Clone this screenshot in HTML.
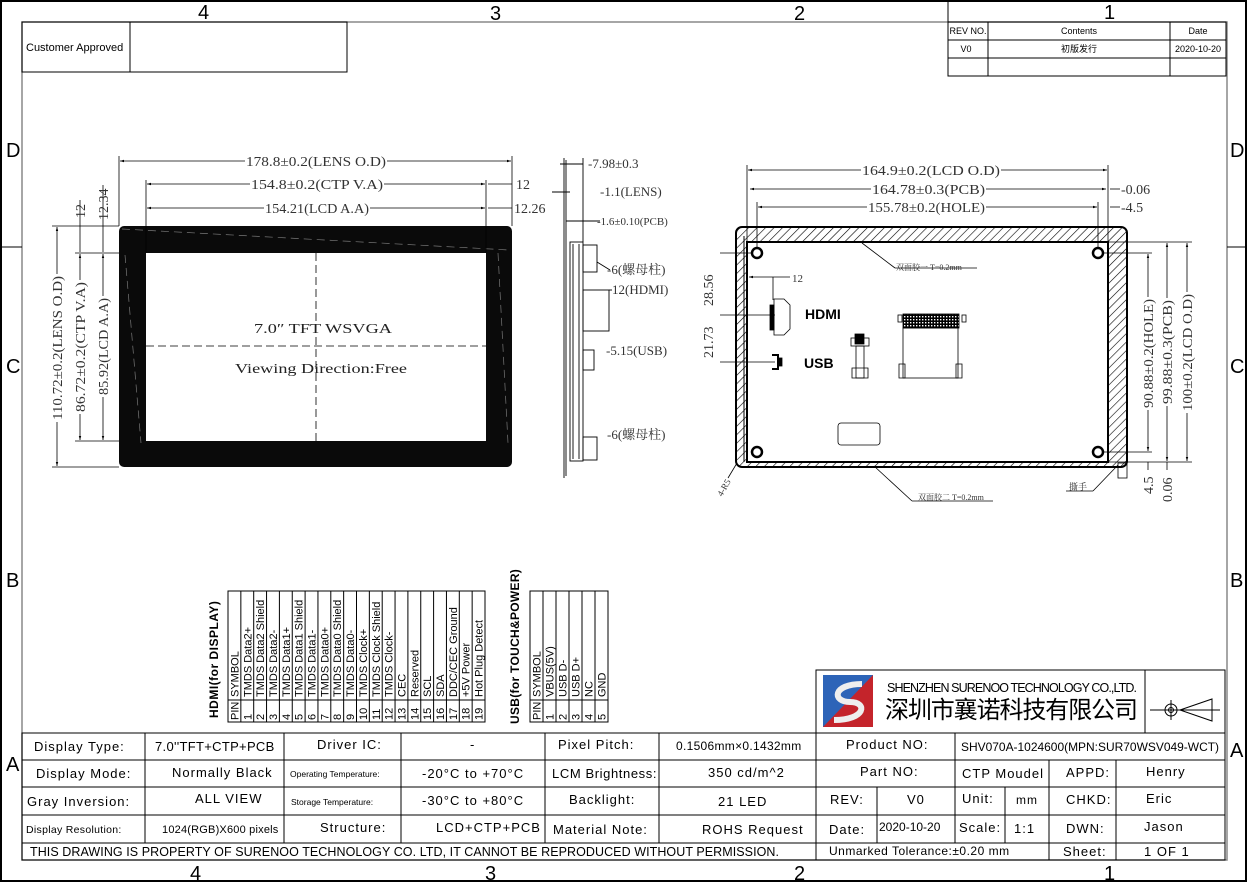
<!DOCTYPE html>
<html><head><meta charset="utf-8"><style>
html,body{margin:0;padding:0;background:#fff}
svg{display:block}
text{font-family:"Liberation Sans","Noto Sans CJK SC",sans-serif;fill:#000}
.s{font-family:"Liberation Serif","Noto Serif CJK SC",serif;fill:#333}
</style></head><body>
<svg width="1248" height="883" viewBox="0 0 1248 883" xmlns="http://www.w3.org/2000/svg">
<defs>
<pattern id="h" width="6" height="6" patternUnits="userSpaceOnUse" patternTransform="rotate(45)">
<rect width="6" height="6" fill="#fff"/><line x1="0" y1="0" x2="0" y2="6" stroke="#000" stroke-width="1.2"/></pattern>
<pattern id="g" width="3" height="3" patternUnits="userSpaceOnUse"><rect width="3" height="3" fill="#000"/><rect x="1" y="1" width="1.4" height="1.4" fill="#fff"/></pattern>
<marker id="a" viewBox="0 0 10 10" refX="10" refY="5" markerWidth="7" markerHeight="5" orient="auto-start-reverse"><path d="M0,2 L10,5 L0,8z" fill="#000"/></marker>
</defs>
<rect x="1" y="1" width="1245" height="880" fill="none" stroke="#000" stroke-width="2"/>
<rect x="22" y="22" width="1205" height="838" fill="none" stroke="#888" stroke-width="1.5"/>
<line x1="1" y1="247" x2="22" y2="247" stroke="#000"/><line x1="1227" y1="247" x2="1246" y2="247" stroke="#000"/>
<g font-size="20">
<text x="198" y="19">4</text><text x="490" y="20">3</text><text x="794" y="20">2</text><text x="1104" y="19">1</text>
<text x="190" y="880">4</text><text x="485" y="880">3</text><text x="794" y="880">2</text><text x="1104" y="880">1</text>
<text x="6" y="157">D</text><text x="1230" y="157">D</text>
<text x="6" y="373">C</text><text x="1230" y="373">C</text>
<text x="6" y="587">B</text><text x="1230" y="587">B</text>
<text x="6" y="771">A</text><text x="1230" y="757">A</text>
</g>
<rect x="22" y="22" width="325" height="50" fill="none" stroke="#000"/>
<line x1="130" y1="22" x2="130" y2="72" stroke="#000"/>
<text x="26" y="51" font-size="11">Customer Approved</text>
<g stroke="#000" fill="none"><rect x="948" y="22" width="278" height="54"/>
<line x1="948" y1="1" x2="948" y2="22"/><line x1="948" y1="40" x2="1226" y2="40"/><line x1="948" y1="58" x2="1226" y2="58"/>
<line x1="988" y1="22" x2="988" y2="76"/><line x1="1170" y1="22" x2="1170" y2="76"/></g>
<g font-size="9" text-anchor="middle"><text x="968" y="34">REV NO.</text><text x="1079" y="34">Contents</text><text x="1198" y="34">Date</text>
<text x="966" y="52">V0</text><text x="1079" y="52">初版发行</text><text x="1198" y="52">2020-10-20</text></g>

<!-- FRONT VIEW -->
<rect x="119" y="226" width="393" height="241" rx="5" fill="#0a0a0a"/>
<rect x="146" y="253" width="340" height="188" fill="#fff"/>
<g stroke="#000" stroke-dasharray="8,4" stroke-width="0.8"><line x1="316" y1="253" x2="316" y2="441"/><line x1="146" y1="346" x2="486" y2="346"/></g>
<g stroke="#777" stroke-dasharray="8,5" stroke-width="0.7"><line x1="122" y1="229" x2="509" y2="250"/><line x1="125" y1="255" x2="141" y2="443"/><line x1="498" y1="253" x2="508" y2="443"/></g>
<text x="254" y="333" class="s" font-size="14" style="fill:#222" textLength="138" lengthAdjust="spacingAndGlyphs">7.0″ TFT WSVGA</text>
<text x="235" y="373" class="s" font-size="14" style="fill:#222" textLength="172" lengthAdjust="spacingAndGlyphs">Viewing Direction:Free</text>
<g stroke="#000" stroke-width="0.8" fill="none">
<line x1="119" y1="156" x2="119" y2="226"/><line x1="512" y1="156" x2="512" y2="226"/>
<line x1="146" y1="180" x2="146" y2="253"/><line x1="486" y1="180" x2="486" y2="253"/>
<line x1="120" y1="161" x2="511" y2="161" marker-start="url(#a)" marker-end="url(#a)"/>
<line x1="147" y1="184" x2="485" y2="184" marker-start="url(#a)" marker-end="url(#a)"/>
<line x1="147" y1="208" x2="485" y2="208" marker-start="url(#a)" marker-end="url(#a)"/>
<line x1="52" y1="226" x2="119" y2="226"/><line x1="52" y1="467" x2="119" y2="467"/>
<line x1="75" y1="253" x2="119" y2="253"/><line x1="75" y1="441" x2="119" y2="441"/>
<line x1="57" y1="227" x2="57" y2="466" marker-start="url(#a)" marker-end="url(#a)"/>
<line x1="80" y1="254" x2="80" y2="440" marker-start="url(#a)" marker-end="url(#a)"/>
<line x1="103" y1="254" x2="103" y2="440" marker-start="url(#a)" marker-end="url(#a)"/>
<line x1="80" y1="200" x2="80" y2="252"/><line x1="103" y1="185" x2="103" y2="252"/>
<line x1="488" y1="184" x2="512" y2="184"/><line x1="488" y1="208" x2="512" y2="208"/>
</g>
<g font-size="14">
<rect x="245" y="152" width="142" height="16" fill="#fff"/><text x="246" y="166" class="s" textLength="140" lengthAdjust="spacingAndGlyphs">178.8±0.2(LENS O.D)</text>
<rect x="250" y="176" width="134" height="16" fill="#fff"/><text x="251" y="189" class="s" textLength="132" lengthAdjust="spacingAndGlyphs">154.8±0.2(CTP V.A)</text>
<rect x="264" y="200" width="106" height="16" fill="#fff"/><text x="265" y="213" class="s" textLength="104" lengthAdjust="spacingAndGlyphs">154.21(LCD A.A)</text>
<text x="516" y="189" class="s">12</text><text x="514" y="213" class="s">12.26</text>
<g transform="translate(62,420) rotate(-90)"><rect x="-2" y="-13" width="148" height="16" fill="#fff"/><text class="s" textLength="144" lengthAdjust="spacingAndGlyphs">110.72±0.2(LENS O.D)</text></g>
<g transform="translate(85,412) rotate(-90)"><rect x="-2" y="-13" width="134" height="16" fill="#fff"/><text class="s" textLength="130" lengthAdjust="spacingAndGlyphs">86.72±0.2(CTP V.A)</text></g>
<g transform="translate(108,395) rotate(-90)"><rect x="-2" y="-13" width="101" height="16" fill="#fff"/><text class="s" textLength="97" lengthAdjust="spacingAndGlyphs">85.92(LCD A.A)</text></g>
<g transform="translate(85,218) rotate(-90)"><text class="s">12</text></g>
<g transform="translate(108,220) rotate(-90)"><text class="s">12.34</text></g>
</g>

<!-- SIDE VIEW -->
<g stroke="#000" stroke-width="0.9" fill="none">
<line x1="564" y1="158" x2="564" y2="478"/><line x1="566" y1="160" x2="566" y2="476"/>
<rect x="570" y="242" width="13" height="219"/><line x1="573" y1="244" x2="573" y2="459"/><line x1="579" y1="244" x2="579" y2="459"/>
<rect x="583" y="245" width="14" height="27"/><rect x="583" y="290" width="26" height="41"/><rect x="583" y="350" width="11" height="20"/><rect x="583" y="437" width="14" height="23"/>
<line x1="583" y1="158" x2="583" y2="242"/>
<line x1="560" y1="164" x2="583" y2="164"/><line x1="552" y1="192" x2="570" y2="192"/><line x1="566" y1="221" x2="600" y2="221"/>
<line x1="597" y1="262" x2="610" y2="270"/><line x1="609" y1="290" x2="612" y2="290"/>
</g>
<g font-size="13">
<text x="588" y="168" class="s">-7.98±0.3</text><text x="600" y="196" class="s">-1.1(LENS)</text><text x="597" y="225" class="s" font-size="11">-1.6±0.10(PCB)</text>
<text x="607" y="274" class="s">-6(螺母柱)</text><text x="612" y="294" class="s">12(HDMI)</text><text x="606" y="355" class="s">-5.15(USB)</text><text x="607" y="439" class="s">-6(螺母柱)</text>
</g>

<!-- BACK VIEW -->
<rect x="736" y="227" width="391" height="240" rx="6" fill="url(#h)" stroke="#000" stroke-width="2"/>
<rect x="747" y="242" width="361" height="220" fill="#fff" stroke="#000" stroke-width="2"/>
<line x1="744" y1="236" x2="744" y2="462" stroke="#000"/>
<g fill="none" stroke="#000" stroke-width="2.5">
<circle cx="757" cy="253" r="5"/><circle cx="1098" cy="253" r="5"/><circle cx="757" cy="452" r="5"/><circle cx="1098" cy="452" r="5"/></g>
<g stroke="#000" stroke-width="0.8" fill="none">
<line x1="747" y1="165" x2="747" y2="242"/><line x1="1108" y1="165" x2="1108" y2="242"/><line x1="757" y1="202" x2="757" y2="248"/><line x1="1098" y1="202" x2="1098" y2="248"/>
<line x1="748" y1="170" x2="1107" y2="170" marker-start="url(#a)" marker-end="url(#a)"/>
<line x1="750" y1="189" x2="1106" y2="189" marker-start="url(#a)" marker-end="url(#a)"/>
<line x1="758" y1="207" x2="1097" y2="207" marker-start="url(#a)" marker-end="url(#a)"/>
<line x1="1110" y1="189" x2="1120" y2="189"/><line x1="1110" y1="207" x2="1120" y2="207"/>
<line x1="1103" y1="253" x2="1152" y2="253"/><line x1="1103" y1="452" x2="1152" y2="452"/>
<line x1="1108" y1="242" x2="1192" y2="242"/><line x1="1108" y1="462" x2="1192" y2="462"/>
<line x1="1148" y1="254" x2="1148" y2="451" marker-start="url(#a)" marker-end="url(#a)"/>
<line x1="1167" y1="243" x2="1167" y2="461" marker-start="url(#a)" marker-end="url(#a)"/>
<line x1="1187" y1="243" x2="1187" y2="461" marker-start="url(#a)" marker-end="url(#a)"/>
<line x1="1148" y1="462" x2="1148" y2="470"/><line x1="1167" y1="462" x2="1167" y2="470"/>
<line x1="720" y1="253" x2="752" y2="253"/><line x1="720" y1="315" x2="775" y2="315"/><line x1="720" y1="362" x2="775" y2="362"/>
<line x1="749" y1="277" x2="773" y2="277" marker-start="url(#a)"/><line x1="773" y1="277" x2="790" y2="277"/><line x1="773" y1="277" x2="773" y2="300"/>
<line x1="862" y1="243" x2="895" y2="268"/><line x1="895" y1="268" x2="977" y2="268"/>
<line x1="874" y1="466" x2="912" y2="501"/><line x1="912" y1="501" x2="993" y2="501"/>
<line x1="1118" y1="465" x2="1093" y2="491"/><line x1="1066" y1="491" x2="1093" y2="491"/>
<line x1="737" y1="463" x2="728" y2="478"/>
<rect x="1118" y="463" width="9" height="15"/>
<path d="M774,299 h10 l6,6 v24 l-6,6 h-10z"/><rect x="770" y="305" width="4" height="25" fill="#000"/>
<path d="M772,355 h6 v14 h-6" stroke-width="2"/><rect x="778" y="358" width="4" height="8" fill="#000"/>
<rect x="851" y="338" width="18" height="8"/><rect x="855" y="334" width="9" height="10" fill="#000"/><rect x="856" y="346" width="8" height="32"/><path d="M852,378 v-10 h16 v10z"/>
<rect x="898" y="315" width="4" height="7"/><rect x="962" y="315" width="4" height="7"/>
<rect x="903" y="314" width="56" height="14" fill="url(#g)"/>
<rect x="903" y="328" width="55" height="50"/><path d="M899,378 v-14 h6 v14z M956,378 v-14 h6 v14z"/>
<rect x="838" y="423" width="42" height="22" rx="3"/>
</g>
<g font-size="14">
<rect x="861" y="162" width="140" height="16" fill="#fff"/><text x="862" y="175" class="s" textLength="138" lengthAdjust="spacingAndGlyphs">164.9±0.2(LCD O.D)</text>
<rect x="871" y="181" width="115" height="16" fill="#fff"/><text x="872" y="194" class="s" textLength="113" lengthAdjust="spacingAndGlyphs">164.78±0.3(PCB)</text>
<rect x="867" y="199" width="119" height="16" fill="#fff"/><text x="868" y="212" class="s" textLength="117" lengthAdjust="spacingAndGlyphs">155.78±0.2(HOLE)</text>
<text x="1121" y="194" class="s">-0.06</text><text x="1121" y="212" class="s">-4.5</text>
<text x="792" y="282" class="s" font-size="11">12</text>
<text x="805" y="319" font-size="14" font-weight="bold">HDMI</text><text x="804" y="368" font-size="14" font-weight="bold">USB</text>
<text x="896" y="270" class="s" font-size="8">双面胶一 T=0.2mm</text><text x="918" y="500" class="s" font-size="8">双面胶二 T=0.2mm</text><text x="1069" y="490" class="s" font-size="9">撕手</text>
<g transform="translate(1153,408) rotate(-90)"><rect x="-2" y="-13" width="113" height="16" fill="#fff"/><text class="s" textLength="109" lengthAdjust="spacingAndGlyphs">90.88±0.2(HOLE)</text></g>
<g transform="translate(1172,404) rotate(-90)"><rect x="-2" y="-13" width="108" height="16" fill="#fff"/><text class="s" textLength="104" lengthAdjust="spacingAndGlyphs">99.88±0.3(PCB)</text></g>
<g transform="translate(1192,411) rotate(-90)"><rect x="-2" y="-13" width="121" height="16" fill="#fff"/><text class="s" textLength="117" lengthAdjust="spacingAndGlyphs">100±0.2(LCD O.D)</text></g>
<g transform="translate(1153,494) rotate(-90)"><text class="s">4.5</text></g>
<g transform="translate(1172,502) rotate(-90)"><text class="s">0.06</text></g>
<g transform="translate(713,306) rotate(-90)"><text class="s">28.56</text></g>
<g transform="translate(713,358) rotate(-90)"><text class="s">21.73</text></g>
<g transform="translate(722,497) rotate(-60)"><text class="s" font-size="9">4-R5</text></g>
</g>

<!-- PIN TABLES -->
<g stroke="#000" fill="none" stroke-width="1">
<rect x="228" y="591" width="257" height="131"/><line x1="228" y1="700" x2="485" y2="700"/>
<rect x="530" y="591" width="78" height="131"/><line x1="530" y1="700" x2="608" y2="700"/>
</g>
<g id="hcols" stroke="#000"></g>
<g font-size="11" id="htext"></g>
<text transform="translate(218,718) rotate(-90)" font-size="12" font-weight="bold" letter-spacing="0.5">HDMI(for DISPLAY)</text>
<text transform="translate(519,724) rotate(-90)" font-size="12" font-weight="bold" letter-spacing="0.3">USB(for TOUCH&amp;POWER)</text>

<!-- BOTTOM TABLE -->
<g stroke="#000" fill="none">
<rect x="816" y="670" width="409" height="63"/><line x1="1145" y1="670" x2="1145" y2="733"/>
<rect x="22" y="733" width="1203" height="127"/>
<line x1="22" y1="760" x2="1225" y2="760"/><line x1="22" y1="787" x2="1225" y2="787"/><line x1="22" y1="815" x2="1225" y2="815"/><line x1="22" y1="843" x2="1225" y2="843"/>
<line x1="145" y1="733" x2="145" y2="843"/><line x1="284" y1="733" x2="284" y2="843"/><line x1="401" y1="733" x2="401" y2="843"/><line x1="545" y1="733" x2="545" y2="843"/><line x1="659" y1="733" x2="659" y2="843"/>
<line x1="816" y1="733" x2="816" y2="860"/><line x1="955" y1="733" x2="955" y2="843"/><line x1="877" y1="787" x2="877" y2="843"/>
<line x1="1005" y1="787" x2="1005" y2="843"/><line x1="1049" y1="760" x2="1049" y2="860"/><line x1="1116" y1="760" x2="1116" y2="860"/>
<line x1="1150" y1="710" x2="1220" y2="710"/><circle cx="1171" cy="710" r="6"/><circle cx="1171" cy="710" r="2.5"/><line x1="1171" y1="700" x2="1171" y2="720"/>
<path d="M1180,710 L1212,699 V721Z"/>
</g>
<rect x="823" y="675" width="50" height="52" fill="#c4242b"/><path d="M823,675 h50 L823,727z" fill="#2d64b8"/>
<path d="M862,684 C832,684 832,702 850,702 C868,702 866,720 834,720" stroke="#eee" stroke-width="6" fill="none"/>
<text x="887" y="692" font-size="12.5" textLength="250">SHENZHEN SURENOO TECHNOLOGY CO.,LTD.</text>
<text x="885" y="718" font-size="24" style="font-family:'Noto Sans CJK SC',sans-serif" textLength="253">深圳市襄诺科技有限公司</text>
<g font-size="13" letter-spacing="1">
<text x="34" y="751">Display Type:</text><text x="155" y="751" letter-spacing="0.3">7.0''TFT+CTP+PCB</text><text x="317" y="749">Driver IC:</text><text x="470" y="749">-</text>
<text x="558" y="749">Pixel Pitch:</text><text x="676" y="750" font-size="12" letter-spacing="0.3">0.1506mm×0.1432mm</text><text x="846" y="749">Product NO:</text><text x="961" y="751" font-size="12" letter-spacing="0" textLength="258" lengthAdjust="spacingAndGlyphs">SHV070A-1024600(MPN:SUR70WSV049-WCT)</text>
<text x="36" y="778">Display Mode:</text><text x="172" y="777">Normally Black</text><text x="290" y="777" font-size="8.5" letter-spacing="0">Operating Temperature:</text><text x="422" y="778">-20°C to +70°C</text>
<text x="552" y="778" letter-spacing="0.6">LCM Brightness:</text><text x="708" y="777">350 cd/m^2</text><text x="860" y="776">Part NO:</text><text x="962" y="778">CTP Moudel</text><text x="1066" y="777">APPD:</text><text x="1146" y="776">Henry</text>
<text x="27" y="806">Gray Inversion:</text><text x="195" y="803">ALL VIEW</text><text x="291" y="805" font-size="8.5" letter-spacing="0">Storage Temperature:</text><text x="422" y="805">-30°C to +80°C</text>
<text x="569" y="804">Backlight:</text><text x="718" y="806">21  LED</text><text x="830" y="804">REV:</text><text x="907" y="804">V0</text><text x="962" y="803">Unit:</text><text x="1016" y="804" font-size="12">mm</text><text x="1066" y="804">CHKD:</text><text x="1146" y="803">Eric</text>
<text x="26" y="833" font-size="10.5" letter-spacing="0.3">Display Resolution:</text><text x="162" y="833" font-size="11" letter-spacing="0.2">1024(RGB)X600 pixels</text><text x="320" y="832">Structure:</text><text x="436" y="832">LCD+CTP+PCB</text>
<text x="553" y="834">Material Note:</text><text x="702" y="834">ROHS Request</text><text x="829" y="834">Date:</text><text x="879" y="831" font-size="12" letter-spacing="0">2020-10-20</text><text x="959" y="832">Scale:</text><text x="1014" y="833">1:1</text><text x="1066" y="833">DWN:</text><text x="1144" y="831">Jason</text>
<text x="30" y="856" font-size="12.5" textLength="750">THIS DRAWING IS PROPERTY OF SURENOO TECHNOLOGY CO. LTD, IT CANNOT BE REPRODUCED WITHOUT PERMISSION.</text>
<text x="829" y="855" font-size="12" letter-spacing="0.5">Unmarked Tolerance:±0.20 mm</text><text x="1063" y="856">Sheet:</text><text x="1144" y="856">1 OF 1</text>
</g>
</svg>
<script>
(function(){
var ns="http://www.w3.org/2000/svg";
function tbl(x0,w,n,labels,gl,gt){
 for(var i=1;i<n;i++){var l=document.createElementNS(ns,"line");var x=x0+w*i;l.setAttribute("x1",x);l.setAttribute("x2",x);l.setAttribute("y1",591);l.setAttribute("y2",722);gl.appendChild(l);}
 for(var i=0;i<n;i++){var cx=x0+w*i+w/2+4;
  var t=document.createElementNS(ns,"text");t.setAttribute("transform","translate("+cx+",720) rotate(-90)");t.setAttribute("font-size","11");t.textContent=i==0?"PIN":String(i);gt.appendChild(t);
  var s=document.createElementNS(ns,"text");s.setAttribute("transform","translate("+cx+",697) rotate(-90)");s.setAttribute("font-size","11");s.textContent=labels[i];gt.appendChild(s);}
}
var gl=document.getElementById("hcols"),gt=document.getElementById("htext");
tbl(228,257/20,20,["SYMBOL","TMDS Data2+","TMDS Data2 Shield","TMDS Data2-","TMDS Data1+","TMDS Data1 Shield","TMDS Data1-","TMDS Data0+","TMDS Data0 Shield","TMDS Data0-","TMDS Clock+","TMDS Clock Shield","TMDS Clock-","CEC","Reserved","SCL","SDA","DDC/CEC Ground","+5V Power","Hot Plug Detect"],gl,gt);
tbl(530,13,6,["SYMBOL","VBUS(5V)","USB D-","USB D+","NC","GND"],gl,gt);
})();
</script>
</body></html>
